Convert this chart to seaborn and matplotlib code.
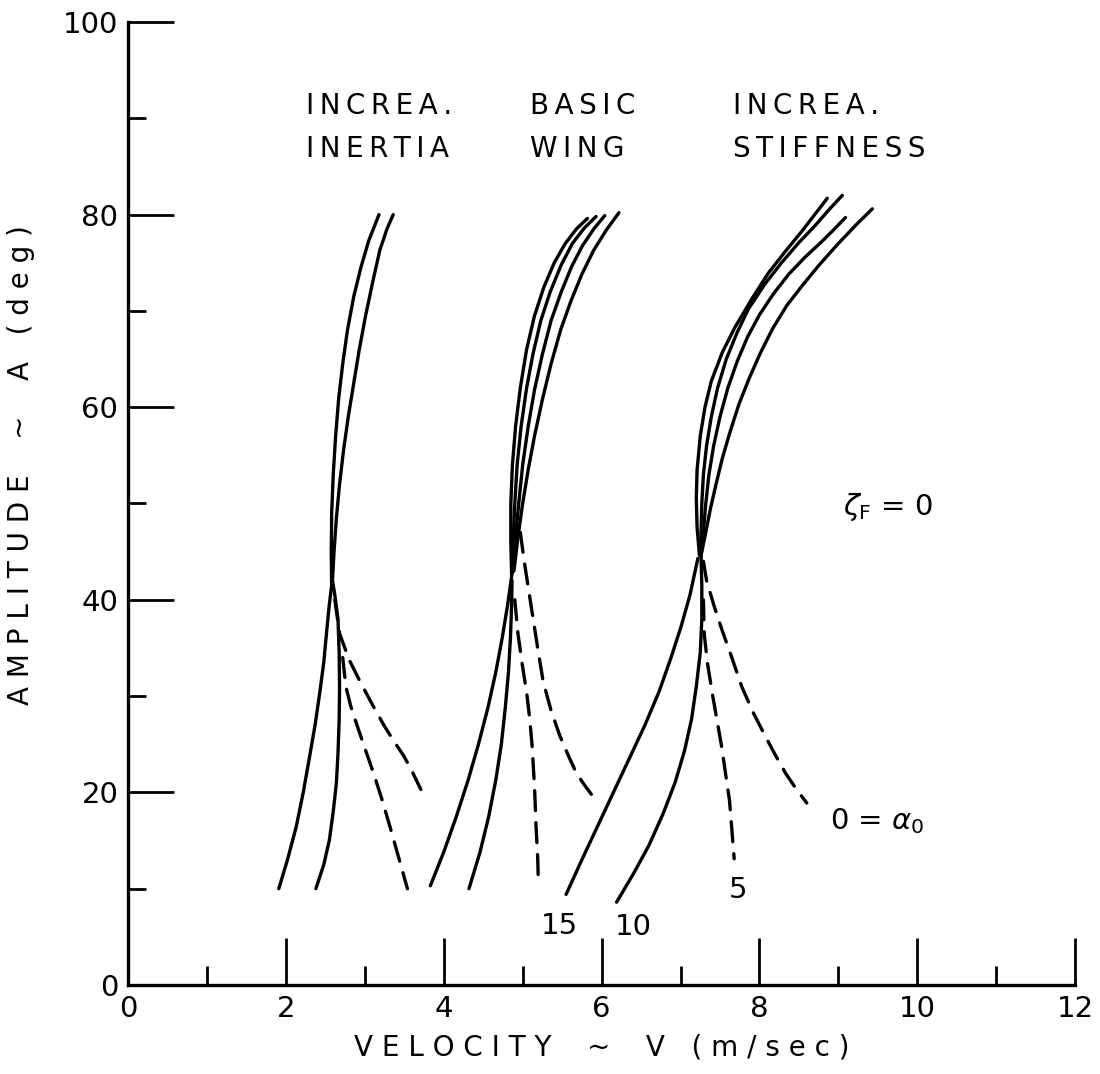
import matplotlib
matplotlib.use("Agg")
import matplotlib.pyplot as plt
import seaborn as sns
from matplotlib.ticker import MultipleLocator

sns.set_style("ticks")
plt.rcParams['font.family'] = ['DejaVu Sans']
plt.rcParams['text.color'] = 'black'
plt.rcParams['axes.labelcolor'] = 'black'
plt.rcParams['xtick.color'] = 'black'
plt.rcParams['ytick.color'] = 'black'

# ---------------- data (V in m/s, A in deg) ----------------
# Increased inertia
INER_U1_V = [2.58, 2.575, 2.58, 2.60, 2.63, 2.67, 2.72, 2.78, 2.86, 2.95, 3.05, 3.18]
INER_U1_A = [41.5, 45.0, 49.0, 53.0, 57.0, 61.0, 64.5, 68.0, 71.5, 74.5, 77.3, 80.0]
INER_U2_V = [2.59, 2.61, 2.64, 2.68, 2.73, 2.79, 2.86, 2.93, 3.01, 3.10, 3.19, 3.28, 3.36]
INER_U2_A = [42.0, 45.0, 48.5, 52.0, 55.5, 59.0, 62.5, 66.0, 69.5, 73.0, 76.3, 78.5, 80.0]
INER_L1_V = [1.91, 2.02, 2.13, 2.22, 2.30, 2.37, 2.43, 2.48, 2.52, 2.55, 2.58]
INER_L1_A = [10.0, 13.0, 16.4, 20.0, 23.7, 27.0, 30.4, 33.5, 37.0, 39.5, 41.5]
INER_L2_V = [2.38, 2.48, 2.55, 2.60, 2.64, 2.66, 2.675, 2.68, 2.675, 2.66, 2.62, 2.59]
INER_L2_A = [10.0, 12.5, 15.0, 18.0, 21.0, 24.0, 27.6, 31.0, 34.5, 38.0, 40.5, 42.0]
INER_D1_V = [2.62, 2.68, 2.80, 2.94, 3.09, 3.24, 3.37, 3.50, 3.61, 3.71]
INER_D1_A = [40.0, 36.5, 33.8, 31.5, 29.2, 27.0, 25.3, 23.7, 22.0, 20.3]
INER_D2_V = [2.72, 2.76, 2.82, 2.90, 3.00, 3.11, 3.22, 3.32, 3.43, 3.54]
INER_D2_A = [34.0, 31.0, 29.0, 27.0, 24.6, 22.0, 19.2, 16.4, 13.2, 10.0]

# Basic wing
BAS_U1_V = [4.86, 4.85, 4.85, 4.87, 4.91, 4.97, 5.05, 5.15, 5.27, 5.40, 5.54, 5.68, 5.82]
BAS_U1_A = [42.6, 46.0, 50.0, 54.0, 58.0, 62.0, 66.0, 69.5, 72.5, 75.0, 77.0, 78.5, 79.6]
BAS_U2_V = [4.87, 4.88, 4.90, 4.93, 4.98, 5.05, 5.13, 5.23, 5.35, 5.49, 5.63, 5.78, 5.93]
BAS_U2_A = [42.8, 46.0, 50.0, 54.0, 58.0, 62.0, 65.5, 69.0, 72.0, 74.8, 77.0, 78.6, 79.8]
BAS_U3_V = [4.88, 4.91, 4.95, 5.00, 5.07, 5.15, 5.25, 5.36, 5.49, 5.62, 5.76, 5.90, 6.04]
BAS_U3_A = [43.0, 46.5, 50.0, 54.0, 58.0, 61.8, 65.5, 69.0, 72.0, 74.6, 76.8, 78.5, 79.9]
BAS_U4_V = [4.89, 4.94, 5.00, 5.07, 5.15, 5.25, 5.36, 5.48, 5.61, 5.75, 5.90, 6.06, 6.22]
BAS_U4_A = [43.0, 46.5, 50.0, 53.5, 57.0, 60.8, 64.5, 68.0, 71.0, 73.8, 76.3, 78.4, 80.2]
BAS_L1_V = [3.83, 4.00, 4.16, 4.31, 4.44, 4.56, 4.66, 4.74, 4.81, 4.87]
BAS_L1_A = [10.3, 13.8, 17.5, 21.3, 25.0, 28.8, 32.5, 36.0, 39.5, 43.0]
BAS_L2_V = [4.32, 4.46, 4.57, 4.66, 4.73, 4.78, 4.82, 4.845, 4.86, 4.865]
BAS_L2_A = [10.0, 13.8, 17.5, 21.3, 25.0, 28.8, 32.5, 36.0, 39.5, 42.0]
BAS_D1_V = [4.90, 4.94, 5.00, 5.05, 5.09, 5.12, 5.15, 5.17, 5.19, 5.20]
BAS_D1_A = [40.0, 36.5, 33.0, 30.4, 27.6, 24.8, 20.6, 16.4, 13.3, 10.3]
BAS_D2_V = [4.97, 5.02, 5.07, 5.12, 5.19, 5.26, 5.36, 5.47, 5.58, 5.68, 5.78, 5.87]
BAS_D2_A = [47.0, 44.0, 41.3, 38.7, 35.0, 31.5, 28.5, 25.9, 23.8, 22.0, 20.8, 19.8]

# Increased stiffness
STF_U1_V = [7.24, 7.21, 7.20, 7.21, 7.25, 7.31, 7.39, 7.53, 7.69, 7.90, 8.11, 8.33, 8.54, 8.70, 8.86]
STF_U1_A = [44.6, 47.5, 50.5, 53.5, 57.0, 60.0, 62.7, 65.7, 68.3, 71.2, 73.9, 76.2, 78.3, 80.0, 81.7]
STF_U2_V = [7.25, 7.26, 7.27, 7.29, 7.33, 7.39, 7.47, 7.58, 7.72, 7.86, 8.07, 8.28, 8.50, 8.71, 8.88, 9.05]
STF_U2_A = [44.6, 47.0, 50.0, 53.0, 56.0, 59.0, 62.0, 65.0, 67.8, 70.2, 72.8, 75.0, 77.1, 78.9, 80.5, 82.0]
STF_U3_V = [7.26, 7.29, 7.32, 7.36, 7.42, 7.50, 7.60, 7.72, 7.85, 8.00, 8.18, 8.37, 8.58, 8.79, 8.95, 9.09]
STF_U3_A = [44.6, 47.0, 50.0, 53.0, 56.0, 59.0, 62.0, 64.8, 67.3, 69.6, 71.8, 73.8, 75.6, 77.2, 78.5, 79.7]
STF_U4_V = [7.26, 7.32, 7.38, 7.45, 7.53, 7.63, 7.74, 7.87, 8.01, 8.17, 8.35, 8.54, 8.76, 9.00, 9.22, 9.43]
STF_U4_A = [44.6, 47.0, 49.5, 52.0, 54.7, 57.5, 60.3, 63.0, 65.6, 68.2, 70.6, 72.6, 74.8, 77.0, 78.9, 80.6]
STF_L1_V = [5.55, 5.75, 5.95, 6.15, 6.35, 6.55, 6.73, 6.88, 7.01, 7.12, 7.22]
STF_L1_A = [9.4, 13.0, 16.5, 20.0, 23.5, 27.0, 30.5, 34.0, 37.3, 40.5, 44.3]
STF_L2_V = [6.19, 6.40, 6.60, 6.78, 6.93, 7.05, 7.14, 7.20, 7.25, 7.27, 7.27, 7.26]
STF_L2_A = [8.6, 11.5, 14.5, 17.8, 21.0, 24.3, 27.6, 31.0, 34.5, 38.0, 41.5, 44.5]
STF_D1_V = [7.29, 7.30, 7.34, 7.40, 7.46, 7.52, 7.57, 7.62, 7.65, 7.68]
STF_D1_A = [40.0, 36.5, 33.5, 30.4, 27.6, 24.8, 22.0, 19.2, 16.2, 13.1]
STF_D2_V = [7.29, 7.33, 7.42, 7.52, 7.65, 7.78, 7.92, 8.07, 8.20, 8.33, 8.47, 8.60]
STF_D2_A = [44.0, 42.0, 39.5, 37.0, 34.0, 30.9, 28.3, 25.9, 23.9, 22.0, 20.3, 18.9]

GROUP_TITLES = [("INCREA.", "INERTIA", 2.26), ("BASIC", "WING", 5.09),
                ("INCREA.", "STIFFNESS", 7.66)]
ALPHA_LABELS = [("15", 5.47, 6.1), ("10", 6.40, 6.0), ("5", 7.73, 9.9)]

X_TICKS = [0, 2, 4, 6, 8, 10, 12]
Y_TICKS = [0, 20, 40, 60, 80, 100]

solid = [
    (INER_U1_V, INER_U1_A), (INER_U2_V, INER_U2_A), (INER_L1_V, INER_L1_A), (INER_L2_V, INER_L2_A),
    (BAS_U1_V, BAS_U1_A), (BAS_U2_V, BAS_U2_A), (BAS_U3_V, BAS_U3_A), (BAS_U4_V, BAS_U4_A),
    (BAS_L1_V, BAS_L1_A), (BAS_L2_V, BAS_L2_A),
    (STF_U1_V, STF_U1_A), (STF_U2_V, STF_U2_A), (STF_U3_V, STF_U3_A), (STF_U4_V, STF_U4_A),
    (STF_L1_V, STF_L1_A), (STF_L2_V, STF_L2_A),
]
dashed = [
    (INER_D1_V, INER_D1_A), (INER_D2_V, INER_D2_A),
    (BAS_D1_V, BAS_D1_A), (BAS_D2_V, BAS_D2_A),
    (STF_D1_V, STF_D1_A), (STF_D2_V, STF_D2_A),
]

# ---------------- figure ----------------
fig = plt.figure(figsize=(11, 10.74), dpi=100)
ax = fig.add_axes([0.1164, 0.0829, 0.861, 0.8966])

LW = 2.4
for v, a in solid:
    sns.lineplot(x=v, y=a, ax=ax, sort=False, estimator=None, color='black',
                 lw=LW, solid_capstyle='round', solid_joinstyle='round')
for v, a in dashed:
    sns.lineplot(x=v, y=a, ax=ax, sort=False, estimator=None, color='black',
                 lw=LW, linestyle=(0, (6.0, 3.6)), dash_capstyle='round',
                 dash_joinstyle='round')

ax.set_xlim(0, 12)
ax.set_ylim(0, 100)
ax.set_xticks(X_TICKS)
ax.set_yticks(Y_TICKS)
ax.xaxis.set_minor_locator(MultipleLocator(1))
ax.yaxis.set_minor_locator(MultipleLocator(10))
ax.tick_params(which='major', direction='in', length=33, width=2.0,
               labelsize=21, pad=7, color='black', labelcolor='black')
ax.tick_params(which='minor', direction='in', length=13, width=2.0, color='black')
ax.tick_params(axis='x', which='minor', length=14)
ax.tick_params(axis='x', which='major', length=34)
sns.despine(ax=ax, top=True, right=True)
for s in ('left', 'bottom'):
    ax.spines[s].set_linewidth(2.4)
    ax.spines[s].set_color('black')

ax.set_xlabel("V E L O C I T Y    ~    V   ( m / s e c )", fontsize=20, labelpad=8,
              color='black')
ax.set_ylabel("A M P L I T U D E    ~    A   ( d e g )", fontsize=20, color='black')
ax.yaxis.set_label_coords(-0.098, 0.54)

for l1, l2, x in GROUP_TITLES:
    ax.text(x, 91.3, "\u2009".join(l1), fontsize=20, ha='left', va='center', color='black')
    ax.text(x, 86.8, "\u2009".join(l2), fontsize=20, ha='left', va='center', color='black')

for t, x, y in ALPHA_LABELS:
    ax.text(x, y, t, fontsize=21, ha='center', va='center', color='black')

ax.text(9.06, 49.6, r"$\zeta_{\mathrm{F}}$ = 0", fontsize=21, ha='left', va='center',
        color='black')
ax.text(8.90, 17.0, r"0 = $\alpha_{\mathrm{0}}$", fontsize=21, ha='left', va='center',
        color='black')

fig.savefig("out.png", dpi=100, facecolor='white')
